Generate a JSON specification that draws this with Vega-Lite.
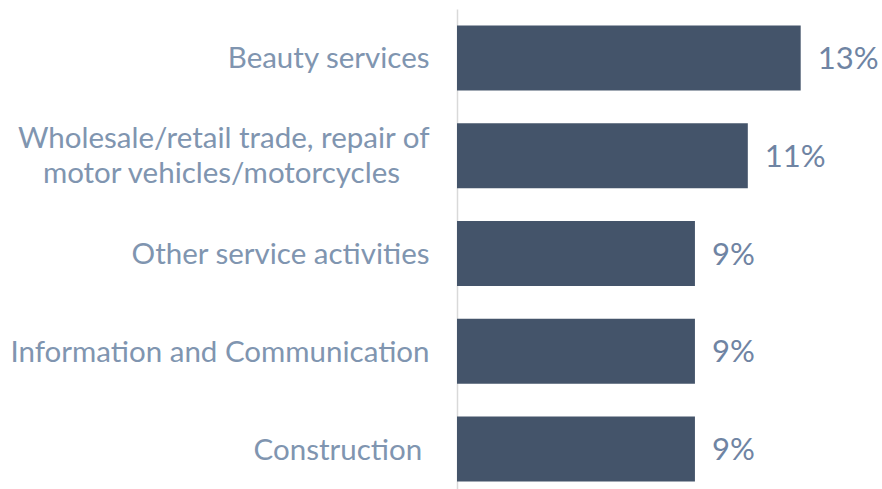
{
  "$schema": "https://vega.github.io/schema/vega-lite/v6.json",
  "width": 423,
  "height": 489,
  "autosize": "none",
  "padding": {"left": 457, "top": 9, "right": 2, "bottom": 0},
  "background": "white",
  "config": {"view": {"stroke": null}, "font": "Lato"},
  "data": {
    "values": [
      {"sector": "Beauty services", "share": 13, "label": "13%"},
      {"sector": "Wholesale/retail trade, repair of|motor vehicles/motorcycles\u2002\u2002\u2060", "share": 11, "label": "11%"},
      {"sector": "Other service activities", "share": 9, "label": "9%"},
      {"sector": "Information and Communication", "share": 9, "label": "9%"},
      {"sector": "Construction\u2005\u2060", "share": 9, "label": "9%"}
    ]
  },
  "encoding": {
    "y": {
      "field": "sector",
      "type": "nominal",
      "sort": null,
      "scale": {"paddingInner": 0.335, "paddingOuter": 0.1675},
      "axis": {
        "title": null,
        "ticks": false,
        "domainColor": "#D9D9D9",
        "domainWidth": 1.5,
        "labelFont": "Lato",
        "labelFontSize": 29.5,
        "labelColor": "#8095B0",
        "labelPadding": 28,
        "labelLimit": 600,
        "labelLineHeight": 35,
        "labelOffset": {"condition": {"test": "indexof(datum.value, '|') >= 0", "value": -16.5}, "value": 1.5},
        "labelExpr": "split(datum.label, '|')"
      }
    },
    "x": {
      "field": "share",
      "type": "quantitative",
      "scale": {"domain": [0, 16]},
      "axis": null
    }
  },
  "layer": [
    {"mark": {"type": "bar", "color": "#44546A"}},
    {
      "mark": {"type": "text", "align": "left", "baseline": "middle", "dx": 17, "dy": 2, "font": "Lato", "fontSize": 31, "color": "#6F84A3"},
      "encoding": {"text": {"field": "label"}}
    }
  ]
}
